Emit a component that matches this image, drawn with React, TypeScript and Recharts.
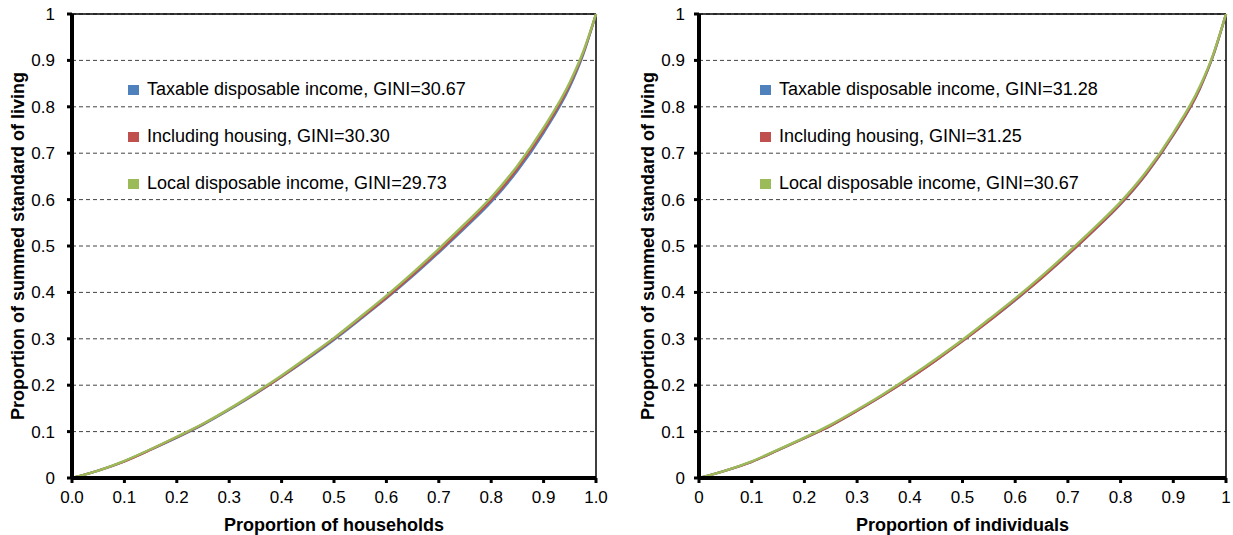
import React from 'react';
import {
  LineChart,
  Line,
  XAxis,
  YAxis,
  CartesianGrid,
  Legend,
  ReferenceLine
} from 'recharts';

// share of population (x) at which each curve is sampled
const populationShare = [0, 0.05, 0.1, 0.15, 0.2, 0.25, 0.3, 0.35, 0.4, 0.45, 0.5, 0.55, 0.6, 0.65, 0.7, 0.75, 0.8, 0.85, 0.9, 0.95, 0.975, 1];

// households
const hhTaxable = [0, 0.016, 0.036, 0.061, 0.087, 0.115, 0.147, 0.181, 0.218, 0.257, 0.298, 0.342, 0.387, 0.435, 0.486, 0.539, 0.595, 0.662, 0.744, 0.843, 0.911, 1];
const hhHousing = [0, 0.016, 0.036, 0.061, 0.088, 0.116, 0.148, 0.182, 0.219, 0.259, 0.3, 0.344, 0.389, 0.438, 0.489, 0.543, 0.599, 0.667, 0.749, 0.848, 0.914, 1];
const hhLocal = [0, 0.016, 0.037, 0.062, 0.089, 0.117, 0.149, 0.184, 0.221, 0.261, 0.302, 0.347, 0.393, 0.442, 0.494, 0.548, 0.605, 0.673, 0.755, 0.853, 0.917, 1];

// individuals
const indTaxable = [0, 0.016, 0.035, 0.06, 0.086, 0.113, 0.145, 0.179, 0.215, 0.254, 0.295, 0.338, 0.383, 0.431, 0.481, 0.534, 0.59, 0.657, 0.739, 0.838, 0.908, 1];
const indHousing = [0, 0.016, 0.035, 0.06, 0.086, 0.113, 0.145, 0.179, 0.215, 0.254, 0.295, 0.338, 0.384, 0.431, 0.482, 0.535, 0.591, 0.658, 0.74, 0.839, 0.909, 1];
const indLocal = [0, 0.016, 0.036, 0.061, 0.087, 0.115, 0.147, 0.181, 0.218, 0.257, 0.298, 0.342, 0.387, 0.435, 0.486, 0.539, 0.595, 0.662, 0.744, 0.843, 0.911, 1];

const hhNames = [
  'Taxable disposable income, GINI=30.67',
  'Including housing, GINI=30.30',
  'Local disposable income, GINI=29.73'
];
const indNames = [
  'Taxable disposable income, GINI=31.28',
  'Including housing, GINI=31.25',
  'Local disposable income, GINI=30.67'
];

const axisTicks = [0, 0.1, 0.2, 0.3, 0.4, 0.5, 0.6, 0.7, 0.8, 0.9, 1];
const hhTickLabels = ['0.0', '0.1', '0.2', '0.3', '0.4', '0.5', '0.6', '0.7', '0.8', '0.9', '1.0'];
const plainTickLabels = ['0', '0.1', '0.2', '0.3', '0.4', '0.5', '0.6', '0.7', '0.8', '0.9', '1'];

const COLORS = ['#4F81BD', '#C0504D', '#9BBB59'];
const FONT = '"Liberation Sans", Arial, sans-serif';

const buildRows = (a: number[], b: number[], c: number[]) =>
  populationShare.map((x, i) => ({ x, taxable: a[i], housing: b[i], local: c[i] }));

const makeLegend = (names: string[]) => (props: any) => {
  const items = [...(props.payload || [])].sort(
    (p: any, q: any) => names.indexOf(p.value) - names.indexOf(q.value)
  );
  return (
    <div style={{ fontFamily: FONT, fontSize: 18, color: '#000' }}>
      {items.map((entry: any) => (
        <div key={entry.value} style={{ display: 'flex', alignItems: 'center', height: 47 }}>
          <span style={{ display: 'inline-block', width: 11, height: 10, background: entry.color, marginRight: 8 }} />
          <span>{entry.value}</span>
        </div>
      ))}
    </div>
  );
};

interface PanelProps {
  rows: Array<{ x: number; taxable: number; housing: number; local: number }>;
  names: string[];
  xTitle: string;
  xLabels: string[];
  width: number;
  yAxisWidth: number;
  rightMargin: number;
  yTitleX: number;
  yTickMargin: number;
  legendLeft: number;
}

const Panel: React.FC<PanelProps> = ({ rows, names, xTitle, xLabels, width, yAxisWidth, rightMargin, yTitleX, yTickMargin, legendLeft }) => {
  const yTitle = ({ viewBox }: any) => {
    const cx = yTitleX;
    const cy = viewBox.y + viewBox.height / 2;
    return (
      <text x={cx} y={cy} transform={`rotate(-90 ${cx} ${cy})`} textAnchor="middle" dominantBaseline="central"
        fontFamily={FONT} fontSize={18} fontWeight="bold" fill="#000">
        Proportion of summed standard of living
      </text>
    );
  };
  const xTitleLabel = ({ viewBox }: any) => (
    <text x={viewBox.x + viewBox.width / 2} y={viewBox.y + 47} textAnchor="middle" dominantBaseline="central"
      fontFamily={FONT} fontSize={18} fontWeight="bold" fill="#000">
      {xTitle}
    </text>
  );
  const tickStyle = { fontFamily: FONT, fontSize: 17, fill: '#000' };

  return (
    <LineChart width={width} height={535} data={rows} margin={{ top: 14, right: rightMargin, left: 0, bottom: 0 }}>
      <CartesianGrid vertical={false} stroke="#444" strokeDasharray="4 3" />
      <XAxis type="number" dataKey="x" domain={[0, 1]} ticks={axisTicks} height={57}
        tickFormatter={(v: number) => xLabels[Math.round(v * 10)]}
        tick={tickStyle} axisLine={{ stroke: '#000', strokeWidth: 4 }}
        tickLine={{ stroke: '#000', strokeWidth: 3 }} tickSize={5} tickMargin={8}
        label={xTitleLabel} />
      <YAxis type="number" domain={[0, 1]} ticks={axisTicks} width={yAxisWidth}
        tickFormatter={(v: number) => plainTickLabels[Math.round(v * 10)]}
        tick={tickStyle} axisLine={{ stroke: '#000', strokeWidth: 4 }}
        tickLine={{ stroke: '#000', strokeWidth: 3 }} tickSize={5} tickMargin={yTickMargin}
        label={yTitle} />
      <ReferenceLine y={1} stroke="#000" strokeWidth={1.5} />
      <ReferenceLine x={1} stroke="#000" strokeWidth={1.5} />
      <Legend layout="horizontal" verticalAlign="middle" align="center" content={makeLegend(names)}
        wrapperStyle={{ left: legendLeft, top: 66, width: 440 }} />
      <Line type="monotone" dataKey="taxable" name={names[0]} stroke={COLORS[0]} strokeWidth={2.4} dot={false} isAnimationActive={false} />
      <Line type="monotone" dataKey="housing" name={names[1]} stroke={COLORS[1]} strokeWidth={2.4} dot={false} isAnimationActive={false} />
      <Line type="monotone" dataKey="local" name={names[2]} stroke={COLORS[2]} strokeWidth={2.4} dot={false} isAnimationActive={false} />
    </LineChart>
  );
};

export default function App() {
  return (
    <div style={{ position: 'absolute', left: 0, top: 0, width: 1233, height: 535, display: 'flex', background: '#fff' }}>
      <Panel rows={buildRows(hhTaxable, hhHousing, hhLocal)} names={hhNames} xTitle="Proportion of households"
        xLabels={hhTickLabels} width={617} yAxisWidth={72} rightMargin={21} yTitleX={18} yTickMargin={12} legendLeft={128} />
      <Panel rows={buildRows(indTaxable, indHousing, indLocal)} names={indNames} xTitle="Proportion of individuals"
        xLabels={plainTickLabels} width={616} yAxisWidth={82} rightMargin={7} yTitleX={31} yTickMargin={9} legendLeft={143} />
    </div>
  );
}
